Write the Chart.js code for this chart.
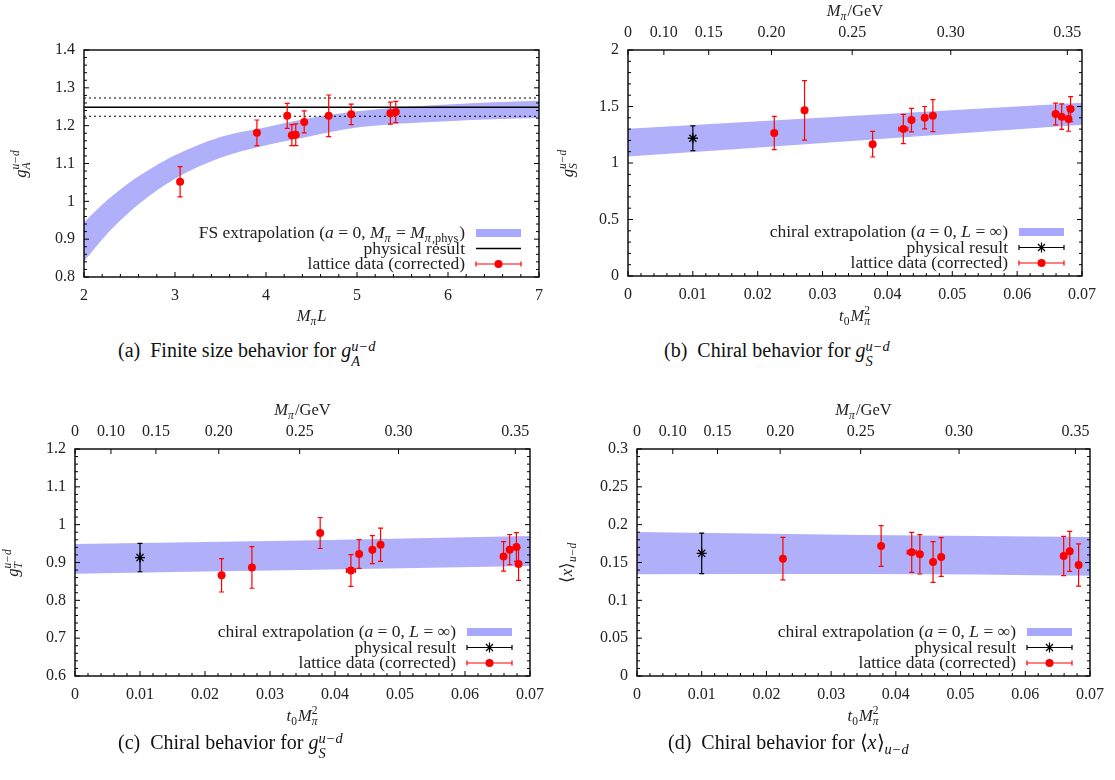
<!DOCTYPE html>
<html>
<head>
<meta charset="utf-8">
<script src="https://cdn.jsdelivr.net/npm/chart.js@4.4.0/dist/chart.umd.min.js"></script>
<style>
  body { margin: 0; background: #fff; width: 1115px; height: 780px; position: relative; overflow: hidden; font-family: "Liberation Serif", serif; color: #111; }
  canvas { position: absolute; }
  .cap { position: absolute; font-size: 20px; white-space: nowrap; line-height: 22px; }
  .ss { display: inline-block; font-size: 0.72em; line-height: 1.0; vertical-align: -0.6em; font-style: italic; }
  .sb { font-size: 0.72em; vertical-align: -0.35em; font-style: italic; }
</style>
</head>
<body>
<canvas id="ca" width="557" height="335" style="left:0;top:0"></canvas>
<canvas id="cb" width="558" height="335" style="left:557px;top:0"></canvas>
<canvas id="cc" width="557" height="345" style="left:0;top:390px"></canvas>
<canvas id="cd" width="558" height="345" style="left:557px;top:390px"></canvas>

<div class="cap" style="left:118px;top:339px">(a)&nbsp; Finite size behavior for <i>g</i><span class="ss">u−d<br>A</span></div>
<div class="cap" style="left:664px;top:339px">(b)&nbsp; Chiral behavior for <i>g</i><span class="ss">u−d<br>S</span></div>
<div class="cap" style="left:118px;top:731px">(c)&nbsp; Chiral behavior for <i>g</i><span class="ss">u−d<br>S</span></div>
<div class="cap" style="left:668px;top:731px">(d)&nbsp; Chiral behavior for ⟨<i>x</i>⟩<span class="sb">u−d</span></div>

<script>
// (a) finite size behaviour of g_A vs M_pi L
const aBandX  = [2, 2.25, 2.5, 2.75, 3, 3.5, 4, 4.5, 5, 5.5, 6, 6.5, 7];
const aBandLo = [0.841, 0.913, 0.972, 1.020, 1.060, 1.115, 1.148, 1.173, 1.195, 1.206, 1.212, 1.217, 1.220];
const aBandHi = [0.944, 1.002, 1.050, 1.089, 1.122, 1.170, 1.196, 1.221, 1.238, 1.249, 1.256, 1.262, 1.266];
const aX   = [3.056, 3.90, 4.233, 4.284, 4.327, 4.42, 4.689, 4.936, 5.367, 5.426];
const aY   = [1.052, 1.181, 1.226, 1.175, 1.176, 1.210, 1.226, 1.230, 1.233, 1.236];
const aErr = [0.040, 0.034, 0.033, 0.028, 0.029, 0.029, 0.055, 0.027, 0.029, 0.028];
const aPhys = 1.249, aPhysErr = 0.024;

// (b)-(d) chiral behaviour vs t0 M_pi^2
const tX    = [0.02255, 0.02722, 0.03772, 0.04245, 0.04371, 0.04575, 0.04701, 0.06593, 0.06687, 0.06791, 0.06824];
const tXErr = [0, 0, 0, 0.0007, 0, 0, 0, 0, 0, 0, 0];
const bandT = [0, 0.035, 0.07];

const bY   = [1.266, 1.466, 1.166, 1.301, 1.380, 1.401, 1.419, 1.433, 1.410, 1.389, 1.477];
const bErr = [0.147, 0.263, 0.113, 0.129, 0.104, 0.099, 0.142, 0.096, 0.113, 0.108, 0.110];
const bBandLo = [1.057, 1.198, 1.339];
const bBandHi = [1.304, 1.419, 1.533];
const bPhys = 1.219, bPhysErr = 0.110;

const cY   = [0.866, 0.887, 0.978, 0.879, 0.9225, 0.934, 0.947, 0.916, 0.934, 0.941, 0.896];
const cErr = [0.044, 0.055, 0.041, 0.042, 0.038, 0.037, 0.044, 0.039, 0.040, 0.038, 0.043];
const cBandLo = [0.8705, 0.880, 0.891];
const cBandHi = [0.949, 0.958, 0.970];
const cPhys = 0.913, cPhysErr = 0.0375;

const dX    = [0.02255, 0.03772, 0.04245, 0.04371, 0.04575, 0.04701, 0.06593, 0.06687, 0.06824];
const dXErr = [0, 0, 0.0007, 0, 0, 0, 0, 0, 0];
const dY    = [0.1551, 0.1718, 0.1634, 0.1608, 0.1507, 0.1573, 0.1586, 0.1648, 0.1467];
const dErr  = [0.028, 0.027, 0.0265, 0.026, 0.027, 0.0256, 0.026, 0.0264, 0.028];
const dBandLo = [0.1344, 0.1348, 0.1326];
const dBandHi = [0.1903, 0.1863, 0.1837];
const dPhys = 0.1621, dPhysErr = 0.0267;

const physT = 0.01;

// top axis: M_pi in GeV, placed at t0*M_pi^2 (t0 in GeV^-2)
const t0 = 0.553;
const mpiTicks  = [0, 0.10, 0.15, 0.20, 0.25, 0.30, 0.35];
const mpiLabels = ['0', '0.10', '0.15', '0.20', '0.25', '0.30', '0.35'];

const FONT = '"Liberation Serif", "Times New Roman", serif';
Chart.defaults.font.family = FONT;
Chart.defaults.font.size = 16;
Chart.defaults.color = '#222';
Chart.defaults.animation = false;

const RED = '#f00';
const BAND = 'rgb(176,176,250)';
const BAND_KEY = 'rgb(168,168,255)';

// gnuplot prints tick numbers without trailing zeros
const plainNum = v => String(parseFloat(Number(v).toFixed(6)));

// little rich text helpers for the math labels
const N = t => ({ t });
const I = t => ({ t, i: true });
const SUB = (t, it = true) => ({ sub: t, subI: it });
const SS = (sup, sub, supI = true, subI = true) => ({ sup, sub, supI, subI });

function fnt(size, it) { return (it ? 'italic ' : '') + size + 'px ' + FONT; }

function partW(ctx, p, size) {
  if (p.t !== undefined) { ctx.font = fnt(size, p.i); return ctx.measureText(p.t).width; }
  const s = size * 0.7;
  let w = 0;
  if (p.sup) { ctx.font = fnt(s, p.supI); w = Math.max(w, ctx.measureText(p.sup).width); }
  if (p.sub) { ctx.font = fnt(s, p.subI); w = Math.max(w, ctx.measureText(p.sub).width); }
  return w + 1;
}

function drawRich(ctx, parts, x, y, size, align) {
  const w = parts.reduce((acc, p) => acc + partW(ctx, p, size), 0);
  let cx = align === 'right' ? x - w : align === 'center' ? x - w / 2 : x;
  ctx.textAlign = 'left';
  ctx.textBaseline = 'alphabetic';
  for (const p of parts) {
    const pw = partW(ctx, p, size);
    if (p.t !== undefined) {
      ctx.font = fnt(size, p.i);
      ctx.fillText(p.t, cx, y);
    } else {
      const s = size * 0.7;
      if (p.sup) { ctx.font = fnt(s, p.supI); ctx.fillText(p.sup, cx, y - size * 0.42); }
      if (p.sub) { ctx.font = fnt(s, p.subI); ctx.fillText(p.sub, cx, y + size * 0.22); }
    }
    cx += pw;
  }
}

function drawStar(ctx, x, y, r) {
  ctx.beginPath();
  ctx.moveTo(x - r, y); ctx.lineTo(x + r, y);
  ctx.moveTo(x, y - r); ctx.lineTo(x, y + r);
  const d = r * 0.7;
  ctx.moveTo(x - d, y - d); ctx.lineTo(x + d, y + d);
  ctx.moveTo(x - d, y + d); ctx.lineTo(x + d, y - d);
  ctx.stroke();
}

// error bars, drawn just before the points of their dataset
const errorBars = {
  id: 'errorBars',
  beforeDatasetDraw(chart, args) {
    const ds = chart.data.datasets[args.index];
    if (!ds.yErr) return;
    const xs = chart.scales.x, ys = chart.scales.y, ctx = chart.ctx;
    ctx.save();
    ctx.strokeStyle = ds.errColor;
    ctx.lineWidth = 1.2;
    ds.data.forEach((p, i) => {
      const px = xs.getPixelForValue(p.x), py = ys.getPixelForValue(p.y);
      const y0 = ys.getPixelForValue(p.y - ds.yErr[i]), y1 = ys.getPixelForValue(p.y + ds.yErr[i]);
      ctx.beginPath();
      ctx.moveTo(px, y0); ctx.lineTo(px, y1);
      ctx.moveTo(px - 2.5, y0); ctx.lineTo(px + 2.5, y0);
      ctx.moveTo(px - 2.5, y1); ctx.lineTo(px + 2.5, y1);
      if (ds.xErr && ds.xErr[i]) {
        const x0 = xs.getPixelForValue(p.x - ds.xErr[i]), x1 = xs.getPixelForValue(p.x + ds.xErr[i]);
        ctx.moveTo(x0, py); ctx.lineTo(x1, py);
        ctx.moveTo(x0, py - 2.5); ctx.lineTo(x0, py + 2.5);
        ctx.moveTo(x1, py - 2.5); ctx.lineTo(x1, py + 2.5);
      }
      ctx.stroke();
    });
    ctx.restore();
  }
};
Chart.register(errorBars);

function eachTick(min, max, step, minor, fn) {
  const n = Math.round((max - min) / minor);
  const per = Math.round(step / minor);
  for (let i = 0; i <= n; i++) fn(min + i * minor, i % per === 0);
}

// frame, inward tics, axis titles and the in-plot key (gnuplot style)
function decor(cfg) {
  return {
    id: 'decor',
    afterDraw(chart) {
      const { ctx, chartArea: a, scales } = chart;
      const xs = scales.x, ys = scales.y;
      ctx.save();
      ctx.strokeStyle = '#000';
      ctx.fillStyle = '#222';
      ctx.lineWidth = 1;
      const seg = (x0, y0, x1, y1) => { ctx.beginPath(); ctx.moveTo(x0, y0); ctx.lineTo(x1, y1); ctx.stroke(); };
      eachTick(cfg.xMin, cfg.xMax, cfg.xStep, cfg.xMinor, (v, major) => {
        const px = xs.getPixelForValue(v);
        seg(px, a.bottom, px, a.bottom - (major ? 5 : 3));
      });
      eachTick(cfg.yMin, cfg.yMax, cfg.yStep, cfg.yMinor, (v, major) => {
        const py = ys.getPixelForValue(v), L = major ? 5 : 3;
        seg(a.left, py, a.left + L, py);
        seg(a.right, py, a.right - L, py);
      });
      if (scales.x2) {
        scales.x2.ticks.forEach(t => {
          const px = scales.x2.getPixelForValue(t.value);
          seg(px, a.top, px, a.top + 5);
        });
      }
      ctx.lineWidth = 1.4;
      ctx.strokeRect(a.left, a.top, a.right - a.left, a.bottom - a.top);

      // axis titles
      const cx = (a.left + a.right) / 2, cy = (a.top + a.bottom) / 2;
      drawRich(ctx, cfg.xTitle, cx, cfg.xTitleY + 5, 16.5, 'center');
      if (cfg.topTitle) drawRich(ctx, cfg.topTitle, cx, cfg.topTitleY + 6, 16.5, 'center');
      ctx.save();
      ctx.translate(cfg.yTitleX, cy);
      ctx.rotate(-Math.PI / 2);
      drawRich(ctx, cfg.yTitle, 0, 5, 16.5, 'center');
      ctx.restore();

      // key
      const tx = a.right - 74, k0 = a.right - 63, k1 = a.right - 18, km = (k0 + k1) / 2;
      cfg.key.forEach((row, r) => {
        const yc = a.bottom - 44 + r * 15.5;
        ctx.fillStyle = '#222';
        drawRich(ctx, row.parts, tx, yc + 5, 17.5, 'right');
        if (row.kind === 'band') {
          ctx.fillStyle = BAND_KEY;
          ctx.fillRect(k0, yc - 4, k1 - k0, 8);
        } else if (row.kind === 'line') {
          ctx.strokeStyle = '#000'; ctx.lineWidth = 1.5;
          seg(k0, yc, k1, yc);
        } else {
          const col = row.kind === 'phys' ? '#000' : RED;
          ctx.strokeStyle = col; ctx.lineWidth = 1.2;
          seg(k0, yc, k1, yc);
          seg(k0, yc - 2.5, k0, yc + 2.5);
          seg(k1, yc - 2.5, k1, yc + 2.5);
          if (row.kind === 'phys') {
            drawStar(ctx, km, yc, 5);
          } else {
            ctx.fillStyle = RED;
            ctx.beginPath(); ctx.arc(km, yc, 4, 0, 2 * Math.PI); ctx.fill();
          }
        }
      });
      ctx.restore();
    }
  };
}

const keyData = { kind: 'data', parts: [N('lattice data (corrected)')] };
const keyChiral = { kind: 'band', parts: [N('chiral extrapolation ('), I('a'), N(' = 0, '), I('L'), N(' = ∞)')] };
const keyPhys = { kind: 'phys', parts: [N('physical result')] };

function pts(xs, ys) { return xs.map((x, i) => ({ x, y: ys[i] })); }

function makePanel(id, c) {
  const datasets = [{
    data: pts(c.x, c.y), showLine: false, pointStyle: 'circle', pointRadius: 4,
    pointBackgroundColor: RED, pointBorderColor: RED, pointBorderWidth: 0,
    yErr: c.err, xErr: c.xErr, errColor: RED
  }];
  if (c.phys !== undefined) {
    datasets.push({
      data: [{ x: physT, y: c.phys }], showLine: false, pointStyle: 'star', pointRadius: 5,
      pointBorderColor: '#000', pointBorderWidth: 1.3, yErr: [c.physErr], errColor: '#000'
    });
  }
  if (c.physLine !== undefined) {
    const line = (y, dash, w) => ({
      data: [{ x: c.xMin, y }, { x: c.xMax, y }], showLine: true, pointRadius: 0,
      borderColor: '#000', borderWidth: w, borderDash: dash, fill: false
    });
    datasets.push(line(c.physLine, [], 1.5));
    datasets.push(line(c.physLine + c.physLineErr, [2, 3], 1.1));
    datasets.push(line(c.physLine - c.physLineErr, [2, 3], 1.1));
  }
  datasets.push({
    data: pts(c.bandX, c.bandHi), showLine: true, pointRadius: 0, borderColor: 'transparent', borderWidth: 0,
    backgroundColor: BAND, fill: '+1', cubicInterpolationMode: 'monotone'
  });
  datasets.push({
    data: pts(c.bandX, c.bandLo), showLine: true, pointRadius: 0, borderColor: 'transparent', borderWidth: 0,
    fill: false, cubicInterpolationMode: 'monotone'
  });

  const scales = {
    x: {
      type: 'linear', position: 'bottom', min: c.xMin, max: c.xMax,
      grid: { display: false, drawTicks: false }, border: { display: false },
      ticks: { stepSize: c.xStep, padding: 9, maxRotation: 0, autoSkip: false, callback: plainNum },
      afterFit: s => { s.height = c.xH; }
    },
    y: {
      type: 'linear', position: 'left', min: c.yMin, max: c.yMax,
      grid: { display: false, drawTicks: false }, border: { display: false },
      ticks: { stepSize: c.yStep, padding: 9, autoSkip: false, callback: plainNum },
      afterFit: s => { s.width = c.yW; }
    }
  };
  if (c.topH) {
    scales.x2 = {
      type: 'linear', position: 'top', min: c.xMin, max: c.xMax,
      grid: { display: false, drawTicks: false }, border: { display: false },
      afterBuildTicks: s => { s.ticks = mpiTicks.map(m => ({ value: t0 * m * m })); },
      ticks: { callback: (v, i) => mpiLabels[i], padding: 8, maxRotation: 0, autoSkip: false },
      afterFit: s => { s.height = c.topH; }
    };
  }

  return new Chart(document.getElementById(id), {
    type: 'scatter',
    data: { datasets },
    options: {
      responsive: false, animation: false, events: [],
      layout: { padding: { left: 0, right: c.padR, top: c.padT, bottom: 0 } },
      plugins: { legend: { display: false }, tooltip: { enabled: false } },
      scales
    },
    plugins: [decor(c)]
  });
}

const tTitle = [I('t'), SUB('0', false), I('M'), SS('2', 'π', false, true)];
const mTitle = [I('M'), SUB('π'), N('/GeV')];

makePanel('ca', {
  x: aX, y: aY, err: aErr, bandX: aBandX, bandLo: aBandLo, bandHi: aBandHi,
  physLine: aPhys, physLineErr: aPhysErr,
  xMin: 2, xMax: 7, xStep: 1, xMinor: 0.2, yMin: 0.8, yMax: 1.4, yStep: 0.1, yMinor: 0.02,
  yW: 84, padR: 18, padT: 50, xH: 58,
  xTitle: [I('M'), SUB('π'), I('L')], xTitleY: 316,
  yTitle: [I('g'), SS('u−d', 'A')], yTitleX: 21,
  key: [
    { kind: 'band', parts: [N('FS extrapolation ('), I('a'), N(' = 0, '), I('M'), SUB('π'), N(' = '), I('M'), SUB('π'), SUB(',phys', false), N(')')] },
    { kind: 'line', parts: [N('physical result')] },
    keyData
  ]
});

makePanel('cb', {
  x: tX, y: bY, err: bErr, xErr: tXErr, bandX: bandT, bandLo: bBandLo, bandHi: bBandHi,
  phys: bPhys, physErr: bPhysErr,
  xMin: 0, xMax: 0.07, xStep: 0.01, xMinor: 0.002, yMin: 0, yMax: 2, yStep: 0.5, yMinor: 0.1,
  yW: 71, padR: 33, padT: 0, topH: 50, xH: 59,
  xTitle: tTitle, xTitleY: 316, topTitle: mTitle, topTitleY: 10,
  yTitle: [I('g'), SS('u−d', 'S')], yTitleX: 11,
  key: [keyChiral, keyPhys, keyData]
});

makePanel('cc', {
  x: tX, y: cY, err: cErr, xErr: tXErr, bandX: bandT, bandLo: cBandLo, bandHi: cBandHi,
  phys: cPhys, physErr: cPhysErr,
  xMin: 0, xMax: 0.07, xStep: 0.01, xMinor: 0.002, yMin: 0.6, yMax: 1.2, yStep: 0.1, yMinor: 0.02,
  yW: 75, padR: 27, padT: 0, topH: 59, xH: 59,
  xTitle: tTitle, xTitleY: 326, topTitle: mTitle, topTitleY: 19,
  yTitle: [I('g'), SS('u−d', 'T')], yTitleX: 13,
  key: [keyChiral, keyPhys, keyData]
});

makePanel('cd', {
  x: dX, y: dY, err: dErr, xErr: dXErr, bandX: bandT, bandLo: dBandLo, bandHi: dBandHi,
  phys: dPhys, physErr: dPhysErr,
  xMin: 0, xMax: 0.07, xStep: 0.01, xMinor: 0.002, yMin: 0, yMax: 0.3, yStep: 0.05, yMinor: 0.01,
  yW: 80, padR: 25, padT: 0, topH: 59, xH: 59,
  xTitle: tTitle, xTitleY: 326, topTitle: mTitle, topTitleY: 19,
  yTitle: [N('⟨'), I('x'), N('⟩'), SUB('u−d')], yTitleX: 10,
  key: [keyChiral, keyPhys, keyData]
});
</script>
</body>
</html>
